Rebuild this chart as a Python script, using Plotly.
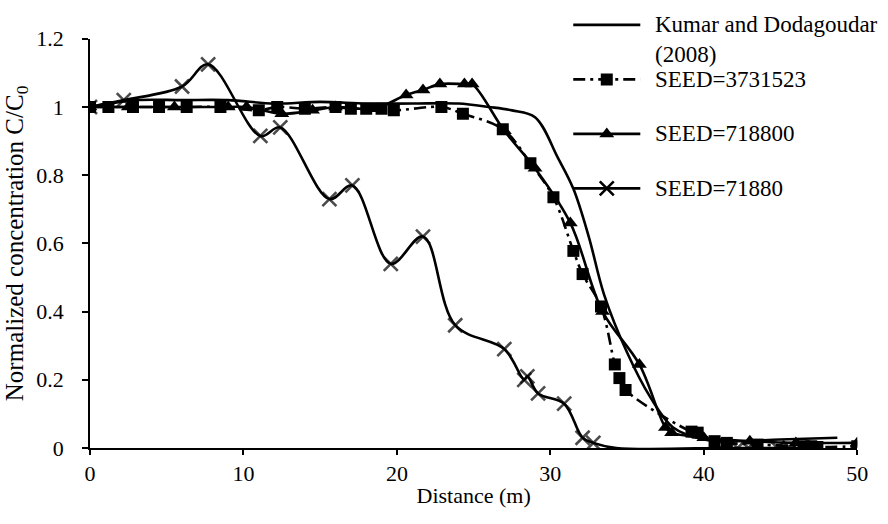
import plotly.graph_objects as go

# Analytical solution (Kumar and Dodagoudar 2008)
kumar_x = [0, 3, 6, 9, 12, 15, 18, 21, 24, 26, 27.5, 29, 30.5, 31.5, 32.5, 33.5,
           35, 36.5, 38, 40, 42, 45, 48.7]
kumar_y = [1.0, 1.02, 1.02, 1.02, 1.01, 1.015, 1.01, 1.01, 1.01, 1.0, 0.99, 0.97,
           0.85, 0.76, 0.62, 0.45, 0.28, 0.15, 0.06, 0.025, 0.02, 0.025, 0.03]

# Random-walk runs with different seeds
s1_x = [0, 1.2, 2.8, 4.5, 6.3, 8.5, 11.0, 12.2, 14.0, 16.0, 17.0, 18.0, 19.0, 19.8,
        22.9, 24.3, 26.9, 28.7, 30.2, 31.5, 32.1, 33.3, 34.2, 34.5, 34.9, 39.2, 39.6,
        40.7, 41.5, 43.5, 46.5, 47.0, 47.4, 50.0]
s1_y = [1.0, 1.0, 1.0, 1.0, 1.0, 1.0, 0.99, 1.0, 0.995, 1.0, 0.995, 0.995, 0.995, 0.99,
        1.0, 0.98, 0.935, 0.835, 0.735, 0.578, 0.51, 0.415, 0.245, 0.205, 0.17, 0.048, 0.045,
        0.02, 0.015, 0.01, 0.005, 0.005, 0.003, 0.005]

s2_x = [0, 2.5, 5.5, 9.0, 10.2, 12.5, 14.5, 16.0, 18.5, 20.6, 21.7, 22.8, 24.4, 24.9,
        27.0, 29.0, 31.3, 33.4, 35.8, 37.5, 37.9, 40.0, 43.0, 46.0, 50.0]
s2_y = [1.0, 1.0, 1.0, 1.0, 1.0, 0.98, 0.99, 1.0, 0.995, 1.035, 1.05, 1.067, 1.067, 1.067,
        0.93, 0.82, 0.66, 0.40, 0.245, 0.06, 0.045, 0.03, 0.02, 0.015, 0.015]

s3_x = [0, 2.2, 6.0, 7.7, 11.1, 12.4, 15.6, 17.1, 19.6, 21.7, 23.8, 27.0, 28.3, 28.5,
        29.2, 30.9, 32.1, 32.8, 34.3, 41.1, 42.2, 42.9, 44.8, 45.6, 46.5]
s3_y = [1.0, 1.02, 1.06, 1.125, 0.915, 0.94, 0.73, 0.77, 0.54, 0.62, 0.36, 0.29, 0.2, 0.21,
        0.16, 0.13, 0.03, 0.015, 0.0, 0.0, 0.0, 0.0, 0.0, 0.0, 0.0]
# the curve reaches zero at 34.3 m without a sampled marker there
s3_marker_size = [0 if x == 34.3 else 14 for x in s3_x]

names = ["Kumar and Dodagoudar<br>(2008)", "SEED=3731523", "SEED=718800", "SEED=71880"]

FONT = "Liberation Serif, Times New Roman, serif"
FS = 22
FS_LEG = 23
FS_YTITLE = 25
BLACK = "black"
DASH1 = "12px,5px,3px,5px"
LW = 2.6

SQ = dict(symbol="square", size=12, color=BLACK)
TRI = dict(symbol="triangle-up", size=13, color=BLACK)
XM = dict(symbol="x-thin", size=14, color=BLACK, line=dict(color=BLACK, width=2.6))

fig = go.Figure()

fig.add_trace(go.Scatter(x=kumar_x, y=kumar_y, mode="lines",
                         line=dict(color=BLACK, width=LW, shape="spline", smoothing=1),
                         showlegend=False))
fig.add_trace(go.Scatter(x=s1_x, y=s1_y, mode="lines+markers",
                         line=dict(color=BLACK, width=LW, dash=DASH1, shape="spline", smoothing=1),
                         marker=SQ, showlegend=False))
fig.add_trace(go.Scatter(x=s2_x, y=s2_y, mode="lines+markers",
                         line=dict(color=BLACK, width=LW, shape="spline", smoothing=1),
                         marker=TRI, showlegend=False))
fig.add_trace(go.Scatter(x=s3_x, y=s3_y, mode="lines+markers",
                         line=dict(color=BLACK, width=LW, shape="spline", smoothing=1),
                         marker=dict(XM, size=s3_marker_size), showlegend=False))

# Hand-built legend on an auxiliary axis pair (pixel-like units) at the upper right
W, H = 888, 524
ml, mr, mt, mb = 90, 0, 8, 76
pw, ph = W - ml - mr, H - mt - mb
plot_right, plot_top = 868, 35

leg_x0, leg_x1, leg_text = 580, 648, 661
leg_top, leg_bottom = 8, 200
legend_rows = [21, 76, 131, 186]
legend_styles = [
    (dict(color=BLACK, width=LW), None),
    (dict(color=BLACK, width=LW, dash=DASH1), SQ),
    (dict(color=BLACK, width=LW), TRI),
    (dict(color=BLACK, width=LW), XM),
]
for row, (ln, mk) in zip(legend_rows, legend_styles):
    fig.add_trace(go.Scatter(x=[leg_x0, leg_x1], y=[row, row], mode="lines", line=ln,
                             xaxis="x2", yaxis="y2", showlegend=False, hoverinfo="skip"))
    if mk is not None:
        fig.add_trace(go.Scatter(x=[(leg_x0 + leg_x1) / 2], y=[row], mode="markers", marker=mk,
                                 xaxis="x2", yaxis="y2", showlegend=False, hoverinfo="skip"))

for row, name in zip(legend_rows, names):
    two_line = "<br>" in name
    fig.add_annotation(x=leg_text, y=row, xref="x2", yref="y2", text=name, showarrow=False,
                       xanchor="left", yanchor="top" if two_line else "middle",
                       yshift=15 if two_line else 0, align="left",
                       font=dict(family=FONT, size=FS_LEG, color=BLACK))

fig.update_layout(
    width=W, height=H,
    margin=dict(l=ml, r=mr, t=mt, b=mb),
    paper_bgcolor="white", plot_bgcolor="rgba(0,0,0,0)",
    font=dict(family=FONT, size=FS, color=BLACK),
    xaxis=dict(range=[0, 50], dtick=10, domain=[0, (plot_right - ml) / pw],
               showline=True, linecolor=BLACK, linewidth=1.5, ticks="outside",
               ticklen=5, tickwidth=1.5, tickcolor=BLACK, showgrid=False, zeroline=False,
               ticklabelstandoff=0,
               title=dict(text="Distance (m)", font=dict(family=FONT, size=FS), standoff=2),
               anchor="y"),
    yaxis=dict(range=[0, 1.2], dtick=0.2, domain=[0, (H - mb - plot_top) / ph],
               showline=True, linecolor=BLACK, linewidth=1.5, ticks="outside",
               ticklen=6, tickwidth=1.5, tickcolor=BLACK, showgrid=False, zeroline=False,
               tickformat="~g", ticklabelstandoff=14,
               title=dict(text="Normalized concentration C/C<sub>0</sub>",
                          font=dict(family=FONT, size=FS_YTITLE), standoff=6),
               anchor="x"),
    xaxis2=dict(domain=[(leg_x0 - 10 - ml) / pw, 1], range=[leg_x0 - 10, W], visible=False,
                anchor="y2"),
    yaxis2=dict(domain=[(H - mb - leg_bottom) / ph, 1], range=[leg_bottom, leg_top],
                visible=False, anchor="x2"),
)

fig.write_html("out.html")
